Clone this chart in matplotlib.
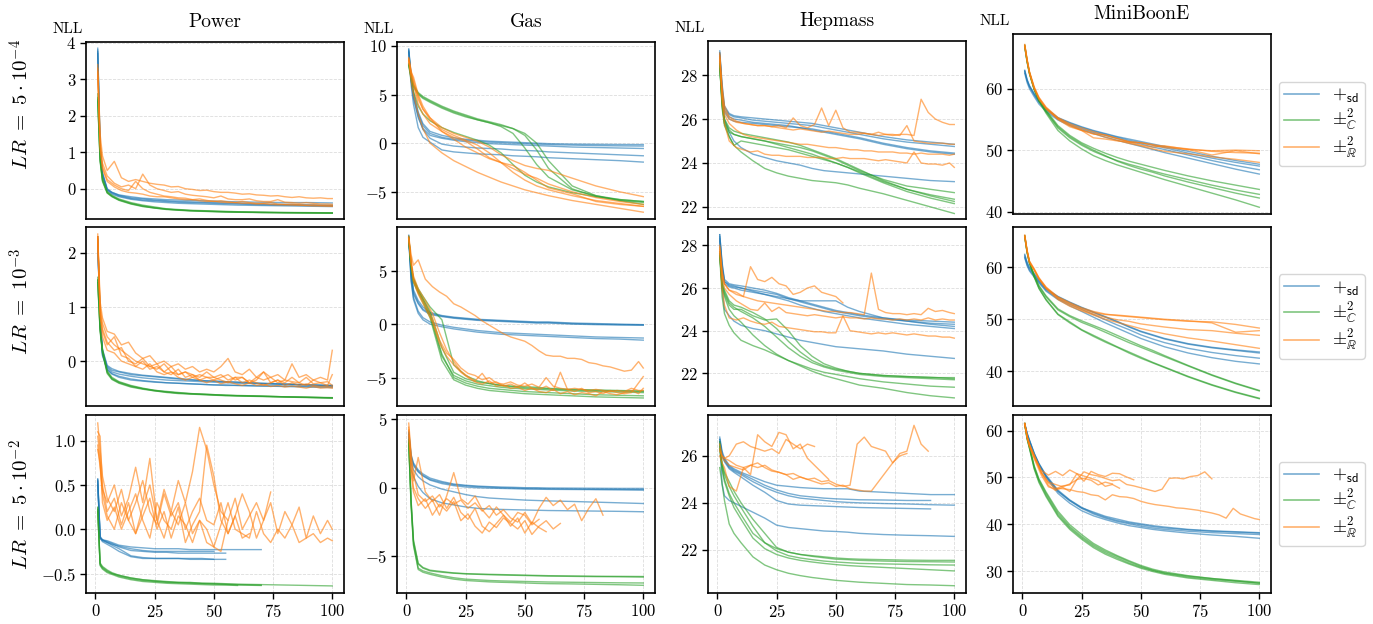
import matplotlib
matplotlib.use("Agg")
import matplotlib.pyplot as plt
from matplotlib.lines import Line2D

plt.rcParams['font.family'] = 'serif'
plt.rcParams['font.serif'] = ['cmr10', 'DejaVu Serif']
plt.rcParams['mathtext.fontset'] = 'cm'
plt.rcParams['axes.formatter.use_mathtext'] = True
plt.rcParams['axes.unicode_minus'] = True

# epochs at which the smooth curves were read, and the denser grid for noisy ones
EP = [1, 2, 3, 5, 7, 10, 15, 20, 25, 30, 35, 40, 45, 50, 55, 60, 70, 80, 90, 100]
EN = [1, 2, 3, 5, 8, 11, 14, 17, 20, 23, 26, 29, 32, 35, 38, 41, 44, 47, 50, 53,
      56, 59, 62, 65, 68, 71, 74, 77, 80, 83, 86, 89, 92, 95, 98, 100]

DATASETS = ["Power", "Gas", "Hepmass", "MiniBoonE"]
ROW_LABELS = [r"$LR\ =\ 5\cdot 10^{-4}$", r"$LR\ =\ 10^{-3}$", r"$LR\ =\ 5\cdot 10^{-2}$"]
LEGEND_LABELS = [r"$+_{\mathsf{sd}}$", r"$\pm^2_{ℂ}$", r"$\pm^2_{ℝ}$"]
XTICKS = [0, 25, 50, 75, 100]
YTICKS = [[[0, 1, 2, 3, 4], [-5, 0, 5, 10], [22, 24, 26, 28], [40, 50, 60]],
          [[0, 1, 2], [-5, 0, 5], [22, 24, 26, 28], [40, 50, 60]],
          [[-0.5, 0.0, 0.5, 1.0], [-5, 0, 5], [22, 24, 26], [30, 40, 50, 60]]]

# ---------------- LR = 5e-4 ----------------
power1_blue = [
    [3.85, 1.2, 0.45, 0.0, -0.1, -0.18, -0.25, -0.28, -0.31, -0.33, -0.35, -0.36, -0.37, -0.38, -0.39, -0.40, -0.42, -0.43, -0.44, -0.45],
    [3.8, 1.1, 0.4, -0.03, -0.12, -0.2, -0.27, -0.31, -0.33, -0.35, -0.37, -0.38, -0.39, -0.40, -0.41, -0.42, -0.44, -0.45, -0.46, -0.47],
    [3.75, 1.0, 0.35, -0.05, -0.15, -0.22, -0.29, -0.33, -0.36, -0.38, -0.40, -0.41, -0.42, -0.43, -0.44, -0.45, -0.46, -0.47, -0.48, -0.49],
    [3.7, 1.15, 0.4, -0.02, -0.1, -0.17, -0.22, -0.26, -0.28, -0.30, -0.31, -0.32, -0.33, -0.34, -0.35, -0.36, -0.37, -0.38, -0.38, -0.39],
]
power1_green = [
    [2.5, 0.8, 0.25, -0.1, -0.2, -0.3, -0.4, -0.47, -0.52, -0.56, -0.58, -0.60, -0.61, -0.62, -0.63, -0.64, -0.65, -0.655, -0.66, -0.665],
    [2.4, 0.75, 0.2, -0.12, -0.22, -0.32, -0.42, -0.49, -0.53, -0.57, -0.59, -0.61, -0.62, -0.63, -0.64, -0.645, -0.655, -0.66, -0.665, -0.67],
    [2.6, 0.85, 0.3, -0.08, -0.18, -0.28, -0.38, -0.45, -0.5, -0.55, -0.57, -0.59, -0.6, -0.61, -0.62, -0.63, -0.64, -0.65, -0.655, -0.66],
    [2.45, 0.8, 0.22, -0.11, -0.21, -0.31, -0.41, -0.48, -0.53, -0.56, -0.585, -0.6, -0.615, -0.625, -0.635, -0.64, -0.65, -0.66, -0.665, -0.67],
]
power1_orange = [
    [3.4, 1.5, 0.9, 0.5, 0.75, 0.3, 0.2, 0.25, 0.2, 0.15, 0.12, 0.1, 0.05, 0.06, 0.0, -0.02, -0.05, -0.04, -0.08, -0.1, -0.1, -0.12, -0.15, -0.14, -0.17, -0.18, -0.2, -0.19, -0.22, -0.24, -0.22, -0.25, -0.26, -0.25, -0.27, -0.27],
    [3.3, 1.3, 0.7, 0.35, 0.15, 0.05, 0.1, 0.0, 0.4, 0.1, 0.0, -0.05, -0.1, -0.08, -0.15, -0.18, -0.2, -0.22, -0.25, -0.2, -0.28, -0.3, -0.3, -0.28, -0.33, -0.35, -0.35, -0.3, -0.37, -0.38, -0.4, -0.38, -0.4, -0.42, -0.42, -0.43],
    [3.2, 1.2, 0.6, 0.25, 0.1, 0.0, -0.05, 0.2, 0.0, -0.1, -0.15, -0.2, -0.22, -0.25, -0.26, -0.3, -0.28, -0.32, -0.35, -0.33, -0.36, -0.38, -0.35, -0.38, -0.4, -0.4, -0.38, -0.42, -0.43, -0.42, -0.44, -0.45, -0.44, -0.46, -0.46, -0.47],
    [3.1, 1.1, 0.55, 0.2, 0.05, -0.05, -0.1, -0.12, -0.15, -0.2, -0.22, -0.22, -0.25, -0.28, -0.3, -0.3, -0.33, -0.35, -0.34, -0.37, -0.38, -0.38, -0.4, -0.4, -0.42, -0.41, -0.43, -0.44, -0.44, -0.45, -0.45, -0.46, -0.47, -0.47, -0.48, -0.48],
]

gas1_blue = [
    [9.7, 7.0, 5.2, 3.2, 2.0, 1.2, 0.8, 0.55, 0.4, 0.3, 0.2, 0.15, 0.1, 0.05, 0.0, -0.05, -0.1, -0.12, -0.14, -0.15],
    [9.6, 6.8, 5.0, 3.0, 1.8, 1.0, 0.6, 0.4, 0.3, 0.2, 0.1, 0.05, 0.0, -0.05, -0.1, -0.15, -0.2, -0.25, -0.28, -0.3],
    [9.5, 6.5, 4.6, 2.6, 1.5, 0.8, 0.5, 0.3, 0.15, 0.05, -0.05, -0.1, -0.15, -0.2, -0.25, -0.3, -0.4, -0.45, -0.5, -0.55],
    [9.4, 6.6, 4.8, 2.8, 1.4, 0.5, -0.1, -0.3, -0.4, -0.5, -0.55, -0.6, -0.7, -0.75, -0.8, -0.9, -1.0, -1.1, -1.2, -1.3],
    [9.3, 6.0, 4.0, 1.6, 0.6, 0.1, -0.7, -0.9, -1.0, -1.1, -1.15, -1.2, -1.3, -1.35, -1.4, -1.5, -1.6, -1.7, -1.8, -1.95],
]
gas1_green = [
    [8.0, 6.5, 5.3, 3.8, 3.0, 2.3, 1.6, 1.1, 0.7, 0.3, -0.2, -1.0, -2.2, -3.3, -4.0, -4.5, -5.1, -5.5, -5.8, -6.0],
    [8.0, 6.8, 5.8, 5.0, 4.6, 4.2, 3.6, 3.1, 2.7, 2.4, 2.1, 1.7, 1.0, -0.5, -2.2, -3.5, -4.8, -5.4, -5.8, -6.0],
    [8.2, 7.0, 6.0, 5.2, 4.8, 4.4, 3.8, 3.3, 2.9, 2.5, 2.2, 1.9, 1.5, 0.8, -0.7, -2.6, -4.7, -5.5, -5.9, -6.1],
    [8.1, 6.9, 5.9, 5.1, 4.7, 4.3, 3.7, 3.2, 2.8, 2.4, 2.1, 1.8, 1.5, 1.0, 0.0, -1.8, -4.4, -5.4, -5.9, -6.3],
]
gas1_orange = [
    [8.8, 7.5, 6.2, 4.5, 3.5, 2.6, 1.6, 1.0, 0.6, 0.2, -0.4, -1.2, -1.8, -2.3, -2.6, -2.8, -3.6, -4.4, -5.0, -5.5],
    [8.5, 7.0, 6.0, 4.0, 3.0, 2.0, 1.2, 0.6, 0.2, -0.6, -1.5, -2.0, -2.6, -3.2, -3.6, -4.2, -5.0, -5.6, -6.0, -6.3],
    [8.6, 7.2, 6.5, 4.8, 3.5, 2.4, 1.4, 0.8, 0.3, -0.2, -1.0, -2.0, -3.0, -3.8, -4.4, -4.8, -5.4, -5.9, -6.2, -6.5],
    [8.4, 6.5, 5.0, 3.0, 1.5, 0.0, -1.0, -1.8, -2.4, -3.0, -3.5, -4.0, -4.4, -4.8, -5.1, -5.4, -5.9, -6.3, -6.7, -7.1],
    [8.7, 7.3, 6.8, 5.0, 3.8, 2.6, 1.2, 0.4, -0.4, -1.0, -1.6, -2.0, -2.3, -3.0, -3.8, -4.6, -5.2, -6.0, -6.3, -6.5],
]

hep1_blue = [
    [29.1, 27.6, 26.6, 26.25, 26.15, 26.1, 26.05, 26.0, 25.95, 25.9, 25.85, 25.8, 25.7, 25.6, 25.5, 25.4, 25.2, 25.05, 24.95, 24.85],
    [29.0, 27.4, 26.5, 26.2, 26.1, 26.05, 25.95, 25.9, 25.85, 25.8, 25.75, 25.7, 25.6, 25.5, 25.4, 25.3, 25.1, 24.95, 24.85, 24.75],
    [28.9, 27.3, 26.4, 26.1, 26.0, 25.95, 25.85, 25.8, 25.75, 25.7, 25.6, 25.55, 25.45, 25.35, 25.25, 25.15, 24.9, 24.7, 24.55, 24.45],
    [29.0, 27.2, 26.3, 26.0, 25.9, 25.85, 25.8, 25.75, 25.7, 25.65, 25.6, 25.5, 25.4, 25.3, 25.2, 25.1, 24.85, 24.65, 24.5, 24.4],
    [28.8, 27.0, 26.0, 25.4, 25.0, 24.7, 24.4, 24.25, 24.1, 24.0, 23.9, 23.75, 23.65, 23.6, 23.55, 23.5, 23.4, 23.3, 23.2, 23.15],
]
hep1_green = [
    [28.5, 26.8, 25.8, 25.2, 24.8, 24.5, 24.1, 23.75, 23.55, 23.4, 23.3, 23.2, 23.15, 23.1, 23.0, 22.85, 22.6, 22.3, 22.0, 21.7],
    [28.4, 26.7, 25.9, 25.5, 25.3, 25.2, 25.1, 25.0, 24.9, 24.8, 24.7, 24.55, 24.35, 24.15, 23.9, 23.65, 23.25, 22.95, 22.8, 22.65],
    [28.5, 26.5, 25.7, 25.2, 24.8, 25.0, 24.9, 24.8, 24.7, 24.6, 24.45, 24.3, 24.15, 24.0, 23.8, 23.6, 23.15, 22.8, 22.55, 22.35],
    [28.3, 26.9, 26.0, 25.6, 25.45, 25.35, 25.25, 25.15, 25.05, 24.95, 24.8, 24.6, 24.4, 24.2, 23.95, 23.7, 23.2, 22.8, 22.5, 22.25],
    [28.6, 26.6, 25.8, 25.4, 25.3, 25.2, 25.1, 25.0, 24.85, 24.7, 24.55, 24.4, 24.2, 24.0, 23.8, 23.55, 23.1, 22.7, 22.4, 22.15],
]
hep1_orange = [
    [29.0, 27.5, 26.6, 26.1, 25.9, 25.8, 25.75, 25.7, 25.7, 25.65, 25.7, 25.6, 26.05, 25.7, 25.6, 25.75, 26.5, 25.7, 26.4, 25.6, 25.4, 25.4, 25.35, 25.3, 25.4, 25.3, 25.3, 25.25, 25.7, 25.0, 24.95, 24.9, 24.9, 24.9, 24.85, 24.85],
    [28.8, 27.2, 26.4, 26.0, 25.85, 25.8, 25.75, 25.7, 25.7, 25.65, 25.6, 25.55, 25.5, 25.55, 25.5, 25.45, 25.4, 25.45, 25.4, 25.35, 25.3, 25.3, 25.35, 25.3, 25.25, 25.3, 25.25, 25.3, 25.3, 25.25, 26.9, 26.3, 26.0, 25.85, 25.75, 25.75],
    [28.9, 27.0, 26.2, 25.8, 25.5, 25.3, 25.2, 25.15, 25.1, 25.05, 25.0, 24.95, 24.9, 24.85, 24.85, 24.8, 24.75, 24.7, 24.7, 24.65, 24.6, 24.6, 24.55, 24.55, 24.5, 24.5, 24.5, 24.45, 24.45, 24.4, 24.45, 24.4, 24.4, 24.4, 24.35, 24.4],
    [28.7, 26.8, 25.8, 25.0, 24.7, 24.6, 24.5, 24.55, 24.4, 24.35, 24.35, 24.3, 24.3, 24.3, 24.25, 24.25, 24.25, 24.2, 24.2, 24.25, 24.2, 24.2, 24.2, 24.15, 24.1, 24.15, 24.1, 24.05, 24.0, 24.5, 24.0, 23.95, 23.95, 23.9, 24.0, 23.8],
]

mini1_blue = [
    [63.0, 61.5, 60.5, 59.2, 58.0, 56.8, 55.3, 54.5, 53.8, 53.2, 52.7, 52.2, 51.8, 51.4, 51.0, 50.6, 49.8, 49.0, 48.3, 47.7],
    [62.8, 61.3, 60.3, 59.0, 57.8, 56.6, 55.1, 54.2, 53.5, 52.9, 52.4, 51.9, 51.4, 51.0, 50.5, 50.1, 49.2, 48.3, 47.5, 46.8],
    [62.5, 61.0, 60.0, 58.7, 57.5, 56.3, 54.9, 54.0, 53.3, 52.7, 52.1, 51.6, 51.1, 50.6, 50.1, 49.6, 48.7, 47.8, 46.9, 46.1],
    [62.9, 61.4, 60.4, 59.1, 57.9, 56.7, 55.2, 54.4, 53.7, 53.1, 52.6, 52.1, 51.6, 51.2, 50.8, 50.4, 49.5, 48.7, 48.0, 47.4],
]
mini1_green = [
    [67.0, 64.5, 62.6, 60.0, 58.3, 56.5, 54.0, 52.4, 51.2, 50.3, 49.5, 48.8, 48.2, 47.7, 47.2, 46.7, 45.8, 45.0, 44.3, 43.6],
    [66.8, 64.3, 62.4, 59.8, 58.0, 56.2, 53.6, 52.0, 50.8, 49.8, 49.0, 48.3, 47.7, 47.2, 46.6, 46.1, 45.2, 44.3, 43.5, 42.8],
    [66.9, 64.4, 62.5, 59.9, 58.1, 56.3, 53.8, 52.2, 51.0, 50.0, 49.1, 48.2, 47.5, 46.9, 46.4, 45.8, 44.8, 43.9, 43.0, 42.2],
    [67.1, 64.6, 62.6, 59.9, 58.0, 56.0, 53.2, 51.5, 50.2, 49.1, 48.3, 47.6, 47.0, 46.4, 45.8, 45.2, 44.1, 43.0, 41.9, 40.7],
]
mini1_orange = [
    [67.2, 64.8, 62.8, 60.3, 58.6, 57.0, 55.3, 54.3, 53.6, 53.0, 52.4, 51.9, 51.4, 51.2, 50.8, 50.4, 50.1, 49.9, 50.0, 49.9],
    [67.0, 64.6, 62.6, 60.0, 58.4, 56.8, 55.0, 53.8, 53.2, 52.0, 51.8, 51.5, 51.3, 51.2, 50.9, 50.6, 50.2, 49.8, 49.6, 49.5],
    [67.1, 64.7, 62.7, 60.2, 58.5, 56.9, 55.2, 54.1, 53.3, 52.7, 52.1, 51.6, 51.1, 50.7, 50.2, 49.8, 49.4, 48.9, 48.5, 48.0],
    [66.9, 64.5, 62.5, 60.0, 58.3, 56.7, 55.1, 54.0, 53.2, 52.6, 52.5, 51.9, 51.3, 50.8, 50.5, 50.7, 50.1, 49.2, 49.9, 49.4],
]

# ---------------- LR = 1e-3 ----------------
power2_blue = [
    [2.3, 0.8, 0.2, -0.1, -0.17, -0.2, -0.25, -0.27, -0.29, -0.31, -0.33, -0.35, -0.36, -0.37, -0.38, -0.39, -0.41, -0.42, -0.44, -0.45],
    [2.25, 0.75, 0.15, -0.12, -0.2, -0.24, -0.28, -0.31, -0.33, -0.35, -0.36, -0.37, -0.38, -0.39, -0.40, -0.41, -0.42, -0.43, -0.44, -0.46],
    [2.3, 0.7, 0.1, -0.15, -0.23, -0.28, -0.33, -0.36, -0.38, -0.40, -0.41, -0.42, -0.43, -0.44, -0.44, -0.45, -0.46, -0.46, -0.47, -0.47],
    [2.2, 0.8, 0.22, -0.08, -0.14, -0.19, -0.23, -0.26, -0.28, -0.3, -0.32, -0.34, -0.36, -0.37, -0.38, -0.39, -0.41, -0.43, -0.44, -0.45],
    [2.25, 0.7, 0.12, -0.16, -0.24, -0.3, -0.35, -0.37, -0.39, -0.4, -0.41, -0.42, -0.43, -0.44, -0.45, -0.45, -0.46, -0.47, -0.48, -0.49],
]
power2_green = [
    [1.5, 0.6, 0.2, -0.2, -0.32, -0.39, -0.46, -0.51, -0.54, -0.57, -0.59, -0.6, -0.61, -0.62, -0.63, -0.64, -0.65, -0.66, -0.67, -0.68],
    [1.45, 0.55, 0.15, -0.23, -0.34, -0.41, -0.48, -0.52, -0.55, -0.58, -0.6, -0.61, -0.62, -0.63, -0.64, -0.645, -0.655, -0.665, -0.675, -0.685],
    [1.55, 0.62, 0.22, -0.18, -0.3, -0.38, -0.45, -0.5, -0.54, -0.56, -0.58, -0.6, -0.61, -0.62, -0.63, -0.635, -0.645, -0.66, -0.665, -0.675],
    [1.5, 0.58, 0.18, -0.21, -0.33, -0.4, -0.47, -0.51, -0.55, -0.57, -0.59, -0.605, -0.615, -0.625, -0.635, -0.64, -0.65, -0.66, -0.67, -0.68],
]
power2_orange = [
    [2.35, 1.1, 0.8, 0.55, 0.5, 0.3, 0.35, 0.15, 0.05, 0.1, -0.05, 0.0, -0.1, -0.05, -0.15, -0.1, -0.2, -0.15, -0.2, -0.1, 0.05, -0.2, -0.25, -0.15, -0.3, -0.2, -0.3, -0.25, -0.35, -0.05, -0.3, -0.25, -0.35, -0.3, -0.35, 0.2],
    [2.3, 1.0, 0.7, 0.45, 0.3, 0.2, 0.1, 0.0, -0.05, -0.1, -0.15, -0.05, -0.2, -0.25, -0.2, -0.3, -0.25, -0.3, -0.35, -0.3, -0.25, -0.35, -0.3, -0.4, -0.35, -0.2, -0.4, -0.35, -0.4, -0.3, -0.4, -0.45, -0.35, -0.4, -0.45, -0.25],
    [2.3, 0.9, 0.55, 0.3, 0.45, 0.1, 0.05, -0.1, 0.0, -0.15, -0.1, -0.2, -0.25, -0.15, -0.3, -0.25, -0.35, -0.3, -0.3, -0.35, -0.4, -0.3, -0.4, -0.35, -0.4, -0.45, -0.4, -0.35, -0.45, -0.4, -0.45, -0.42, -0.45, -0.47, -0.46, -0.48],
    [2.25, 0.85, 0.45, 0.2, 0.15, 0.0, -0.05, -0.1, -0.15, -0.05, -0.2, -0.25, -0.2, -0.3, -0.35, -0.3, -0.35, -0.4, -0.35, -0.42, -0.38, -0.42, -0.45, -0.4, -0.45, -0.43, -0.47, -0.45, -0.48, -0.46, -0.48, -0.5, -0.47, -0.5, -0.49, -0.5],
    [2.3, 0.95, 0.6, 0.35, 0.2, 0.25, 0.0, -0.05, 0.05, -0.1, -0.05, -0.2, -0.1, -0.25, -0.2, -0.25, -0.3, -0.2, -0.3, -0.25, -0.35, -0.3, -0.3, -0.4, -0.3, -0.35, -0.3, -0.4, -0.35, -0.38, -0.4, -0.3, -0.42, -0.4, -0.38, -0.45],
]

gas2_blue = [
    [8.3, 5.0, 3.2, 2.2, 1.6, 1.1, 0.8, 0.65, 0.55, 0.45, 0.4, 0.35, 0.3, 0.25, 0.2, 0.2, 0.1, 0.05, 0.0, -0.05],
    [8.2, 4.8, 3.0, 2.0, 1.4, 1.0, 0.75, 0.6, 0.5, 0.4, 0.35, 0.3, 0.25, 0.2, 0.15, 0.15, 0.05, 0.0, -0.05, -0.08],
    [8.0, 4.6, 2.8, 1.9, 1.3, 0.9, 0.7, 0.55, 0.45, 0.35, 0.3, 0.25, 0.2, 0.15, 0.1, 0.1, 0.0, -0.05, -0.08, -0.1],
    [8.1, 4.2, 2.5, 1.2, 0.6, 0.2, -0.1, -0.3, -0.45, -0.6, -0.7, -0.8, -0.85, -0.9, -0.95, -1.0, -1.1, -1.2, -1.25, -1.3],
    [8.0, 4.0, 2.3, 1.0, 0.4, 0.0, -0.25, -0.45, -0.6, -0.75, -0.85, -0.95, -1.0, -1.05, -1.1, -1.15, -1.25, -1.35, -1.4, -1.5],
]
gas2_green = [
    [8.0, 5.5, 4.2, 3.2, 2.4, 1.2, -2.2, -4.5, -5.1, -5.4, -5.55, -5.7, -5.8, -5.85, -5.9, -6.0, -6.1, -6.15, -6.2, -6.25],
    [7.9, 5.3, 4.0, 3.0, 2.2, 0.8, -3.0, -4.8, -5.3, -5.6, -5.75, -5.9, -6.0, -6.05, -6.1, -6.15, -6.25, -6.3, -6.35, -6.4],
    [8.1, 5.4, 4.1, 3.1, 2.3, 1.0, -2.8, -5.0, -5.5, -5.8, -6.0, -6.1, -6.2, -6.3, -6.35, -6.4, -6.5, -6.6, -6.65, -6.7],
    [8.0, 5.2, 3.9, 2.9, 2.0, 0.6, -3.4, -5.2, -5.7, -6.0, -6.2, -6.3, -6.4, -6.5, -6.55, -6.6, -6.7, -6.8, -6.85, -6.9],
    [8.2, 5.6, 4.3, 3.3, 2.6, 1.6, 0.4, -3.8, -4.8, -5.3, -5.55, -5.75, -5.85, -5.95, -6.0, -6.05, -6.15, -6.2, -6.25, -6.3],
]
gas2_orange = [
    [8.2, 6.5, 5.5, 6.0, 4.2, 3.5, 3.0, 2.6, 1.9, 1.6, 1.2, 0.8, 0.3, -0.1, -0.5, -0.9, -1.2, -1.4, -1.6, -2.0, -2.5, -2.9, -3.0, -3.0, -3.2, -3.2, -3.3, -3.6, -3.7, -3.9, -4.0, -4.2, -4.4, -4.3, -3.5, -4.1],
    [8.0, 5.8, 4.2, 3.0, 1.8, 0.5, -1.5, -2.7, -3.3, -4.1, -4.6, -4.8, -5.2, -5.0, -5.5, -5.6, -5.4, -5.7, -5.8, -5.6, -5.9, -5.0, -5.8, -6.0, -6.1, -6.0, -6.1, -6.2, -6.1, -6.2, -6.3, -6.2, -6.3, -6.0, -6.2, -6.2],
    [8.1, 6.0, 4.5, 3.3, 2.2, 1.0, -0.8, -2.4, -3.5, -4.4, -4.9, -5.3, -4.6, -5.5, -5.4, -5.8, -5.6, -5.9, -5.5, -6.0, -6.1, -5.8, -6.2, -4.5, -6.1, -6.3, -6.0, -6.4, -6.3, -6.5, -6.2, -6.4, -6.5, -6.4, -5.5, -4.9],
    [8.0, 5.6, 4.0, 2.8, 1.5, 0.2, -1.8, -3.0, -3.8, -4.5, -5.0, -5.4, -5.6, -5.3, -5.8, -5.7, -6.0, -5.9, -6.2, -6.0, -6.3, -6.4, -6.1, -6.5, -6.3, -6.6, -6.4, -6.5, -6.7, -6.3, -6.5, -6.6, -6.4, -6.2, -6.5, -6.0],
]

hep2_blue = [
    [28.5, 27.2, 26.4, 26.2, 26.15, 26.1, 26.0, 25.9, 25.75, 25.55, 25.4, 25.25, 25.1, 24.95, 24.85, 24.75, 24.6, 24.5, 24.45, 24.4],
    [28.4, 27.0, 26.3, 26.1, 26.05, 26.0, 25.9, 25.8, 25.7, 25.5, 25.35, 25.2, 25.05, 24.9, 24.8, 24.7, 24.55, 24.45, 24.35, 24.3],
    [28.3, 26.9, 26.2, 26.05, 26.0, 25.9, 25.8, 25.7, 25.6, 25.5, 25.4, 25.4, 25.4, 25.4, 25.1, 24.9, 24.6, 24.45, 24.3, 24.2],
    [28.5, 27.1, 26.3, 26.15, 26.1, 26.0, 25.85, 25.7, 25.55, 25.4, 25.2, 25.05, 24.9, 24.8, 24.7, 24.6, 24.45, 24.3, 24.2, 24.1],
    [28.2, 26.0, 25.0, 24.7, 24.45, 24.25, 24.1, 24.0, 23.85, 23.7, 23.55, 23.45, 23.35, 23.25, 23.2, 23.15, 23.05, 22.9, 22.8, 22.7],
]
hep2_green = [
    [27.5, 25.6, 24.8, 24.25, 23.9, 23.55, 23.3, 23.1, 22.85, 22.6, 22.35, 22.1, 21.9, 21.75, 21.6, 21.45, 21.3, 21.1, 20.95, 20.85],
    [27.6, 26.0, 25.6, 25.0, 24.7, 24.4, 23.8, 23.3, 22.9, 22.6, 22.4, 22.2, 22.05, 21.95, 21.85, 21.75, 21.6, 21.5, 21.4, 21.35],
    [27.7, 26.2, 25.8, 25.3, 25.1, 24.9, 24.6, 24.2, 23.7, 23.2, 22.8, 22.5, 22.3, 22.15, 22.05, 21.95, 21.85, 21.8, 21.75, 21.7],
    [27.5, 26.1, 25.7, 25.2, 25.0, 25.0, 24.7, 24.5, 24.55, 24.0, 23.3, 22.8, 22.45, 22.25, 22.1, 22.0, 21.9, 21.85, 21.8, 21.8],
    [27.6, 26.3, 25.9, 25.4, 25.2, 25.1, 24.85, 24.55, 24.1, 23.5, 23.0, 22.6, 22.35, 22.2, 22.1, 22.0, 21.9, 21.85, 21.82, 21.75],
]
hep2_orange = [
    [28.0, 26.8, 26.2, 25.9, 25.8, 25.6, 27.0, 26.4, 26.3, 26.5, 26.2, 26.1, 25.7, 25.8, 26.0, 26.1, 25.8, 25.7, 25.6, 25.3],
    [27.9, 26.7, 26.2, 25.9, 25.7, 25.6, 25.5, 25.4, 25.35, 25.3, 25.25, 25.2, 25.15, 25.1, 25.05, 25.0, 24.95, 24.9, 24.9, 24.85, 24.85, 24.8, 24.75, 26.7, 25.0, 24.85, 24.8, 24.8, 24.75, 24.8, 24.75, 25.05, 24.9, 24.95, 24.85, 24.8],
    [27.8, 26.5, 26.0, 25.7, 25.4, 25.2, 25.0, 24.95, 25.3, 24.9, 25.1, 24.85, 24.8, 24.75, 24.7, 24.75, 24.7, 24.65, 24.6, 24.65, 24.6, 24.6, 24.55, 24.6, 24.55, 24.55, 24.5, 24.55, 24.5, 24.55, 24.5, 24.6, 24.5, 24.55, 24.5, 24.5],
    [27.7, 26.0, 25.2, 24.6, 24.5, 24.6, 24.45, 24.35, 24.3, 24.4, 24.2, 24.15, 24.1, 24.05, 24.0, 23.95, 23.95, 23.9, 23.9, 24.7, 24.0, 23.95, 23.9, 23.85, 23.9, 23.85, 23.9, 23.85, 23.8, 23.85, 23.8, 23.75, 23.75, 23.7, 23.7, 23.65],
]

mini2_blue = [
    [62.5, 61.0, 60.0, 58.8, 57.6, 55.9, 54.4, 53.3, 52.3, 51.4, 50.5, 49.6, 48.6, 47.7, 47.0, 46.3, 45.3, 44.6, 44.1, 43.7],
    [62.3, 60.8, 59.8, 58.6, 57.4, 55.8, 54.3, 53.2, 52.2, 51.3, 50.4, 49.5, 48.5, 47.6, 46.9, 46.2, 45.2, 44.5, 44.0, 43.5],
    [62.0, 60.5, 59.5, 58.3, 57.2, 55.6, 54.0, 52.9, 51.9, 50.9, 49.9, 48.9, 48.0, 47.0, 46.2, 45.5, 44.4, 43.6, 43.0, 42.5],
    [61.8, 60.3, 59.3, 58.1, 57.0, 55.4, 53.8, 52.6, 51.5, 50.4, 49.3, 48.3, 47.3, 46.3, 45.5, 44.7, 43.5, 42.6, 41.9, 41.4],
]
mini2_green = [
    [66.0, 63.0, 61.0, 58.5, 56.5, 54.5, 52.0, 50.7, 49.7, 48.8, 47.9, 46.9, 45.9, 44.9, 44.0, 43.0, 41.1, 39.3, 37.7, 36.3],
    [65.8, 62.8, 60.8, 58.3, 56.3, 54.3, 51.8, 50.5, 49.4, 48.5, 47.5, 46.5, 45.5, 44.6, 43.7, 42.8, 41.0, 39.2, 37.6, 36.2],
    [66.1, 63.0, 60.9, 58.2, 56.0, 53.8, 51.0, 49.5, 48.0, 46.9, 45.8, 44.7, 43.7, 42.7, 41.7, 40.8, 39.0, 37.4, 36.0, 34.8],
    [66.0, 62.9, 60.8, 58.1, 55.9, 53.7, 50.9, 49.3, 47.9, 46.7, 45.6, 44.6, 43.5, 42.5, 41.6, 40.7, 38.9, 37.3, 35.9, 34.7],
]
mini2_orange = [
    [66.2, 63.3, 61.2, 59.7, 58.0, 56.2, 54.3, 53.2, 52.2, 51.5, 51.0, 50.7, 50.5, 50.3, 50.1, 49.9, 49.6, 49.5, 49.0, 48.3],
    [66.0, 63.1, 61.0, 59.5, 57.8, 56.0, 54.2, 53.0, 52.0, 51.3, 50.9, 50.8, 50.6, 50.4, 50.2, 50.0, 49.7, 49.3, 47.5, 47.8],
    [66.1, 63.2, 61.1, 59.6, 57.9, 56.1, 54.0, 52.8, 51.8, 51.0, 50.4, 49.9, 49.6, 49.1, 48.8, 48.5, 48.0, 47.8, 47.3, 46.9],
    [65.9, 63.0, 60.9, 59.4, 57.7, 55.9, 53.8, 52.5, 51.6, 50.8, 50.0, 49.4, 48.8, 48.2, 47.7, 47.2, 46.4, 45.8, 45.1, 44.4],
]

# ---------------- LR = 5e-2 ----------------
power3_blue = [
    [0.57, -0.08, -0.12, -0.13, -0.15, -0.18, -0.2, -0.21, -0.22, -0.22, -0.22, -0.23, -0.23, -0.23, -0.23, -0.23, -0.23],
    [0.55, -0.1, -0.12, -0.14, -0.16, -0.2, -0.24, -0.25, -0.26, -0.26, -0.27, -0.27, -0.27, -0.27, -0.27],
    [0.5, -0.1, -0.13, -0.15, -0.17, -0.19, -0.22, -0.24, -0.25, -0.25, -0.25, -0.25, -0.25, -0.25],
    [0.56, -0.09, -0.12, -0.15, -0.18, -0.22, -0.3, -0.32, -0.33, -0.33, -0.33, -0.33, -0.33, -0.34, -0.34],
    [0.54, -0.1, -0.14, -0.17, -0.2, -0.25, -0.31, -0.33, -0.33, -0.33, -0.33, -0.34, -0.34, -0.34],
]
power3_green = [
    [0.25, -0.38, -0.42, -0.46, -0.49, -0.52, -0.55, -0.57, -0.58, -0.59, -0.6, -0.6, -0.61, -0.61, -0.615, -0.62, -0.625, -0.63, -0.635, -0.64],
    [0.22, -0.4, -0.44, -0.48, -0.5, -0.53, -0.56, -0.58, -0.59, -0.6, -0.605, -0.61, -0.615, -0.62, -0.625, -0.63, -0.635],
    [0.2, -0.39, -0.43, -0.47, -0.5, -0.52, -0.55, -0.57, -0.585, -0.595, -0.6, -0.605, -0.61, -0.615, -0.62, -0.625, -0.63],
    [0.24, -0.41, -0.45, -0.49, -0.51, -0.54, -0.57, -0.59, -0.6, -0.61, -0.615, -0.62, -0.625, -0.63, -0.63, -0.635],
]
power3_orange = [
    [1.2, 0.9, 0.6, 0.35, 0.2, 0.45, 0.1, 0.3, 0.55, 0.2, 0.05, 0.4, 0.15, 0.3, 0.0, 0.2, 0.35, 0.1, 0.05, 0.3, -0.05, 0.15, 0.4, 0.2, -0.1, 0.1, 0.3, -0.05, 0.2, 0.05, 0.25, -0.1, 0.15, -0.05, 0.1, 0.0],
    [1.1, 1.05, 0.5, 0.2, 0.35, 0.05, 0.3, -0.05, 0.25, 0.5, 0.1, -0.1, 0.2, 0.05, 0.3, -0.05, 0.1, -0.15, -0.2, 0.05, 0.3, 0.0, -0.05, -0.1, 0.2, -0.05, -0.15, 0.0, -0.1, 0.05, -0.15, -0.1, -0.05, -0.15, -0.1, -0.13],
    [0.95, 0.7, 0.45, 0.3, 0.5, 0.15, 0.35, 0.7, 0.3, 0.8, 0.1, 0.45, 0.2, 0.55, 0.3, 0.65, 1.15, 0.9, 0.5, 0.2, 0.1, 0.35, 0.0, 0.15, 0.3, 0.1, 0.42],
    [1.05, 0.8, 0.3, 0.1, 0.25, 0.0, 0.2, 0.4, 0.1, -0.1, 0.3, 0.1, 0.0, 0.25, -0.15, 0.05, 0.2, 0.95, 0.6, 0.1, -0.05, 0.15, -0.1, -0.05],
    [0.9, 0.75, 0.4, 0.15, 0.0, 0.3, 0.1, -0.05, 0.15, 0.35, 0.0, 0.2, -0.1, 0.15, 0.05, -0.15, 0.1, 0.0, -0.2, -0.25, 0.1],
]

gas3_blue = [
    [4.1, 2.4, 1.8, 1.3, 1.0, 0.7, 0.45, 0.27, 0.18, 0.12, 0.08, 0.05, 0.03, 0.0, 0.0, -0.02, -0.03, -0.04, -0.05, -0.05],
    [4.0, 2.3, 1.7, 1.2, 0.9, 0.6, 0.38, 0.22, 0.14, 0.08, 0.04, 0.0, -0.02, -0.05, -0.06, -0.08, -0.1, -0.12, -0.13, -0.15],
    [3.9, 2.2, 1.6, 1.15, 0.85, 0.55, 0.3, 0.15, 0.05, 0.0, -0.03, -0.05, -0.07, -0.1, -0.11, -0.12, -0.13, -0.14, -0.15, -0.16],
    [3.8, 1.8, 1.3, 0.8, 0.5, 0.2, -0.1, -0.3, -0.5, -0.65, -0.75, -0.8, -0.85, -0.9, -0.93, -0.96, -1.0, -1.05, -1.1, -1.15],
    [3.7, 1.3, 0.8, 0.1, -0.35, -0.8, -1.1, -1.25, -1.4, -1.5, -1.55, -1.58, -1.6, -1.62, -1.64, -1.66, -1.68, -1.7, -1.72, -1.75],
]
gas3_green = [
    [3.5, -0.9, -3.8, -5.5, -5.8, -6.0, -6.1, -6.2, -6.25, -6.28, -6.3, -6.32, -6.34, -6.36, -6.38, -6.4, -6.42, -6.44, -6.45, -6.46],
    [3.4, -1.0, -3.9, -5.55, -5.85, -6.05, -6.15, -6.22, -6.27, -6.3, -6.33, -6.35, -6.37, -6.39, -6.41, -6.43, -6.45, -6.47, -6.48, -6.5],
    [3.3, -1.2, -4.1, -5.85, -6.05, -6.2, -6.4, -6.55, -6.65, -6.7, -6.75, -6.78, -6.8, -6.82, -6.84, -6.86, -6.88, -6.9, -6.92, -6.93],
    [3.2, -1.3, -4.2, -5.95, -6.15, -6.3, -6.5, -6.65, -6.75, -6.8, -6.85, -6.88, -6.9, -6.93, -6.96, -6.98, -7.0, -7.03, -7.06, -7.1],
]
gas3_orange = [
    [4.7, 2.5, 1.0, -0.5, -1.0, -0.6, -1.4, -0.8, -1.2, -0.9, -1.5, -1.1, -1.7, -1.3, -2.0, -1.6, -2.2, -2.5, -1.8, -2.6, -1.5, -0.7, -1.3, -0.9, -1.6, -1.2, -2.4, -1.5, -0.8, -2.0],
    [4.4, 2.2, 0.5, 2.2, -0.3, -1.0, -0.5, -1.5, -0.7, -1.8, -2.3, -1.5, -2.8, -3.2, -2.6, -2.0, -2.8, -2.2, -3.3, -2.5, -2.9, -3.2],
    [4.2, 1.5, 0.0, -0.8, -1.5, -0.9, -2.0, -0.6, 1.1, -0.8, -1.2, -0.6, -1.6, -2.2, -1.4, -2.0, -2.5, -1.8, -2.0, -2.7, -2.3],
    [3.8, 1.0, -0.3, -1.3, -0.8, -2.0, -1.2, -1.7, -1.0, -2.4, -1.9, -2.8, -3.3, -2.5, -2.9, -2.2, -2.6, -3.0, -2.4, -3.4, -2.8, -2.4, -3.0, -2.6],
]

hep3_blue = [
    [26.8, 26.2, 25.9, 25.6, 25.45, 25.3, 25.1, 24.9, 24.75, 24.7, 24.65, 24.62, 24.6, 24.6, 24.6, 24.5, 24.45, 24.4, 24.35, 24.35],
    [26.7, 26.1, 25.85, 25.55, 25.4, 25.25, 25.0, 24.75, 24.55, 24.4, 24.3, 24.25, 24.2, 24.17, 24.15, 24.13, 24.12, 24.1, 24.1],
    [26.6, 26.0, 25.8, 25.5, 25.35, 25.2, 24.9, 24.65, 24.45, 24.3, 24.2, 24.15, 24.1, 24.05, 24.02, 24.0, 23.97, 23.95, 23.92, 23.9],
    [26.7, 26.05, 25.75, 25.45, 25.3, 25.1, 24.75, 24.45, 24.1, 23.95, 23.9, 23.88, 23.86, 23.84, 23.82, 23.8, 23.78, 23.76, 23.74],
    [26.6, 24.8, 24.3, 24.1, 24.0, 23.85, 23.6, 23.35, 23.05, 22.95, 22.9, 22.85, 22.8, 22.78, 22.75, 22.7, 22.65, 22.62, 22.6, 22.57],
]
hep3_green = [
    [25.5, 24.8, 24.1, 23.1, 22.7, 22.3, 21.7, 21.35, 21.15, 21.0, 20.9, 20.82, 20.76, 20.7, 20.66, 20.62, 20.57, 20.52, 20.5, 20.47],
    [26.5, 25.5, 25.0, 24.4, 24.0, 23.5, 22.7, 22.3, 22.05, 21.9, 21.8, 21.72, 21.66, 21.6, 21.58, 21.55, 21.52, 21.5, 21.49, 21.48],
    [26.3, 25.4, 24.9, 24.3, 23.8, 23.3, 22.5, 22.05, 21.8, 21.65, 21.55, 21.48, 21.42, 21.37, 21.33, 21.3, 21.25, 21.2, 21.15, 21.1],
    [26.6, 25.7, 25.3, 24.9, 24.5, 24.0, 23.3, 22.7, 22.1, 21.9, 21.8, 21.75, 21.7, 21.65, 21.62, 21.6, 21.58, 21.56, 21.55, 21.55],
    [26.4, 25.6, 25.2, 24.7, 24.3, 23.8, 23.0, 22.3, 21.95, 21.75, 21.65, 21.58, 21.52, 21.48, 21.45, 21.42, 21.4, 21.38, 21.36, 21.35],
]
hep3_orange = [
    [26.2, 26.0, 25.9, 26.0, 26.5, 26.6, 26.4, 26.3, 26.2, 26.3, 26.1, 26.7, 26.5, 26.3, 26.5, 26.4],
    [26.5, 26.0, 25.9, 25.8, 25.6, 25.5, 25.2, 26.9, 26.6, 26.4, 27.0, 26.9, 26.3, 26.5, 25.9, 25.6, 25.3, 25.0],
    [26.3, 25.9, 25.8, 25.6, 25.5, 25.4, 25.6, 25.7, 25.5, 25.35, 25.3, 25.2, 25.25, 25.1, 25.0, 25.05, 24.9, 24.95, 24.8, 24.7, 24.75, 26.5, 26.8, 26.4, 26.3, 26.2, 25.7, 26.1, 26.2, 27.3, 26.5, 26.2],
    [26.0, 25.7, 25.5, 24.7, 24.5, 25.5, 25.6, 25.5, 25.6, 25.4, 25.3, 25.2, 25.0, 25.1, 25.0, 24.9, 24.8, 24.85, 24.7, 24.75, 24.6, 24.55, 24.5, 24.5, 24.9, 25.3, 25.7, 26.0, 26.1],
]

mini3_blue = [
    [61.5, 59.5, 58.0, 55.2, 53.0, 50.5, 47.3, 45.2, 43.6, 42.4, 41.5, 40.8, 40.3, 39.9, 39.5, 39.2, 38.8, 38.5, 38.3, 38.1],
    [61.4, 59.3, 57.8, 55.0, 52.8, 50.2, 47.0, 45.0, 43.4, 42.2, 41.3, 40.6, 40.1, 39.6, 39.2, 38.9, 38.5, 38.2, 38.0, 37.8],
    [61.5, 59.4, 57.9, 55.1, 52.7, 50.0, 46.6, 44.5, 42.9, 41.8, 41.0, 40.3, 39.7, 39.3, 38.9, 38.6, 38.1, 37.7, 37.4, 37.0],
    [61.3, 59.2, 57.7, 54.9, 52.9, 50.3, 47.1, 45.1, 43.5, 42.6, 41.7, 41.1, 40.5, 40.1, 39.7, 39.4, 38.9, 38.6, 38.4, 38.2],
]
mini3_green = [
    [61.5, 58.5, 56.5, 52.3, 49.5, 46.6, 42.4, 39.5, 37.4, 35.6, 34.2, 33.1, 32.0, 31.0, 30.2, 29.6, 28.9, 28.4, 28.0, 27.6],
    [61.4, 58.3, 56.3, 52.0, 49.2, 46.2, 42.0, 39.2, 37.1, 35.3, 33.9, 32.8, 31.7, 30.8, 30.1, 29.5, 28.7, 28.2, 27.8, 27.4],
    [61.6, 58.6, 56.6, 52.5, 49.7, 46.9, 42.8, 39.9, 37.8, 35.9, 34.5, 33.3, 32.2, 31.2, 30.4, 29.8, 29.0, 28.4, 27.9, 27.4],
    [61.3, 58.2, 56.2, 51.8, 48.9, 45.9, 41.7, 38.9, 36.8, 35.0, 33.6, 32.5, 31.5, 30.6, 29.9, 29.3, 28.5, 28.0, 27.5, 27.1],
]
mini3_orange = [
    [61.5, 58.8, 57.0, 54.5, 51.5, 50.5, 51.3, 50.4, 51.6, 50.8, 49.2, 51.3, 50.6, 50.2, 50.9, 50.8, 50.1, 49.5],
    [61.6, 58.6, 56.8, 54.3, 51.0, 49.0, 48.5, 48.0, 48.6, 49.5, 51.2, 50.6, 50.3, 49.8, 49.3, 49.5, 48.5, 48.2, 47.8, 47.4, 47.0, 47.5, 49.8, 49.9, 49.7, 50.2, 50.4, 51.2, 49.7],
    [61.5, 58.7, 56.9, 54.6, 51.2, 48.8, 47.7, 47.6, 47.4, 47.0, 46.8, 46.3, 46.1, 45.2, 46.3, 45.9, 45.8, 45.5, 44.9, 44.5, 44.2, 44.0, 43.8, 43.5, 43.4, 43.2, 43.0, 42.7, 42.4, 42.0, 41.3, 43.4, 42.2, 41.7, 41.2, 41.0],
    [61.4, 58.5, 56.6, 54.0, 50.5, 48.0, 47.5, 48.2, 48.4, 50.8, 50.3, 49.8, 49.3, 48.1, 48.5, 47.7],
    [61.5, 58.9, 57.1, 54.8, 51.0, 48.3, 47.2, 47.9, 47.0, 49.6, 49.8, 49.4, 48.4, 49.0, 48.6],
]

PANELS = [
    [(power1_blue, power1_green, power1_orange, EN), (gas1_blue, gas1_green, gas1_orange, EP),
     (hep1_blue, hep1_green, hep1_orange, EN), (mini1_blue, mini1_green, mini1_orange, EP)],
    [(power2_blue, power2_green, power2_orange, EN), (gas2_blue, gas2_green, gas2_orange, EN),
     (hep2_blue, hep2_green, hep2_orange, EN), (mini2_blue, mini2_green, mini2_orange, EP)],
    [(power3_blue, power3_green, power3_orange, EN), (gas3_blue, gas3_green, gas3_orange, EN),
     (hep3_blue, hep3_green, hep3_orange, EN), (mini3_blue, mini3_green, mini3_orange, EN)],
]

# layout in pixels of the 1373x624 canvas
W, H = 1373, 624
COL_LEFT = [86, 397, 708, 1013]
COL_W = 258
ROW_TOP = [[42, 42, 41, 34], [227, 227, 227, 227], [415, 415, 415, 415]]
ROW_BOT = [[219, 219, 219, 214], [406, 406, 406, 406], [593, 593, 593, 593]]
ROW_LABEL_Y = [104, 301, 505]
YLIMS = [[(-0.83, 4.02), (-7.8, 10.4), (21.45, 29.55), (39.6, 68.9)],
         [(-0.83, 2.48), (-7.65, 9.07), (20.47, 28.86), (33.3, 67.75)],
         [(-0.72, 1.29), (-7.66, 5.29), (20.16, 27.74), (25.3, 63.35)]]

COLORS = ['#1f77b4', '#2ca02c', '#ff7f0e']

fig = plt.figure(figsize=(W / 100, H / 100), dpi=100)

for r in range(3):
    fig.text(21 / W, 1 - ROW_LABEL_Y[r] / H, ROW_LABELS[r], rotation=90,
             ha='center', va='center', fontsize=15)
    for c in range(4):
        top, bot = ROW_TOP[r][c], ROW_BOT[r][c]
        ax = fig.add_axes([COL_LEFT[c] / W, 1 - bot / H, COL_W / W, (bot - top) / H])
        blue, green, orange, ogrid = PANELS[r][c]
        for y in blue:
            ax.plot(EP[:len(y)], y, color=COLORS[0], lw=1.0, alpha=0.6)
        for y in green:
            ax.plot(EP[:len(y)], y, color=COLORS[1], lw=1.0, alpha=0.6)
        for y in orange:
            ax.plot(ogrid[:len(y)], y, color=COLORS[2], lw=1.0, alpha=0.6)

        ax.set_xlim(-3.95, 104.95)
        ax.set_ylim(*YLIMS[r][c])
        ax.set_yticks(YTICKS[r][c])
        if r == 2:
            ax.set_xticks(XTICKS)
        else:
            ax.set_xticks([])
        ax.grid(True, ls='--', lw=0.6, color='#dddddd')
        ax.set_axisbelow(True)
        for s in ax.spines.values():
            s.set_linewidth(1.2)
        ax.tick_params(direction='out', length=4, width=1, labelsize=12, pad=3)

        if r == 0:
            ax.set_title(DATASETS[c], fontsize=14, pad=11)
            ax.text(-0.012, 1.05, "NLL", transform=ax.transAxes, ha='right', va='baseline', fontsize=11)
        if c == 3:
            handles = [Line2D([], [], color=col, lw=1.2, alpha=0.6) for col in COLORS]
            ax.legend(handles, LEGEND_LABELS, loc='center left', bbox_to_anchor=(1.03, 0.5),
                      fontsize=13, handlelength=1.95, handletextpad=0.7, borderpad=0.3,
                      labelspacing=0.15, borderaxespad=0.0,
                      frameon=True, fancybox=True, edgecolor='#cccccc')

fig.savefig("out.png", dpi=100)
